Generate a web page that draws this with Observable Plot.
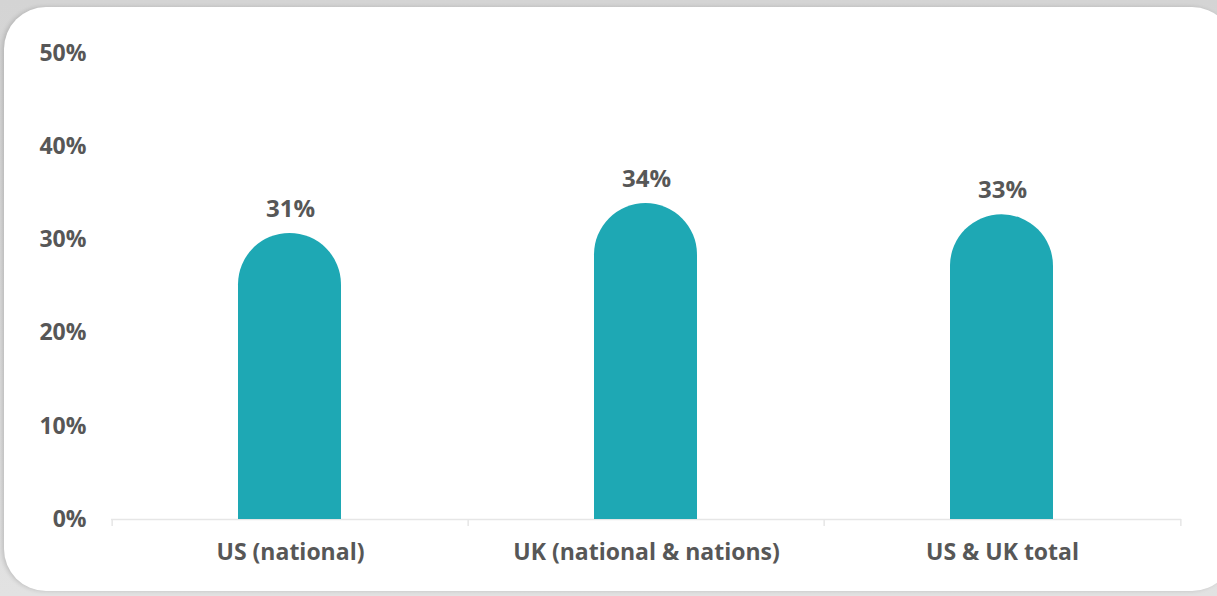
<!DOCTYPE html>
<html>
<head>
<meta charset="utf-8">
<script src="https://cdn.jsdelivr.net/npm/d3@7"></script>
<script src="https://cdn.jsdelivr.net/npm/@observablehq/plot@0.6"></script>
<style>
  html, body { margin: 0; padding: 0; }
  body {
    width: 1217px; height: 596px; overflow: hidden; position: relative;
    background: linear-gradient(#d4d4d4, #e2e2e2);
    font-family: "Open Sans", sans-serif;
  }
  #card {
    position: absolute; left: 4px; top: 7px; width: 1230px; height: 584px;
    background: #fff; border-radius: 42px;
    box-shadow: -2px 0 4px rgba(0,0,0,0.15);
  }
  #chart { position: absolute; left: 0; top: 0; }
</style>
</head>
<body>
<div id="card"></div>
<div id="chart"></div>
<script>
const categories = ["US (national)", "UK (national & nations)", "US & UK total"];
const values = [30.7, 33.9, 32.7];
const yTicks = [0, 10, 20, 30, 40, 50];

const data = categories.map((c, i) => ({category: c, value: values[i]}));

const W = 1217, H = 596, ML = 111, MR = 36, MT = 53, MB = 77;
const bw = (W - ML - MR) / categories.length;
const barColor = "#1ea8b4";
const textColor = "#575757";

const chart = Plot.plot({
  width: W, height: H,
  marginLeft: ML, marginRight: MR, marginTop: MT, marginBottom: MB,
  style: {background: "transparent", fontFamily: "'Open Sans', sans-serif", overflow: "visible"},
  x: {domain: categories, padding: 0, round: true, label: null, axis: null},
  y: {domain: [0, 50], label: null, axis: null},
  marks: [
    Plot.ruleY([0], {stroke: "#e6e6e6", strokeWidth: 1.5}),
    Plot.ruleX(categories, {x: d => d, y1: 0, y2: -0.75, dx: -bw / 2, stroke: "#e6e6e6", strokeWidth: 1.5}),
    Plot.ruleX([categories[categories.length - 1]], {x: d => d, y1: 0, y2: -0.75, dx: bw / 2, stroke: "#e6e6e6", strokeWidth: 1.5}),
    Plot.barY(data, {x: "category", y: "value", fill: barColor, insetLeft: 127, insetRight: 126, dx: -1, rx: 51.5}),
    Plot.barY(data, {x: "category", y: d => d.value / 2, fill: barColor, insetLeft: 127, insetRight: 126, dx: -1,
      shapeRendering: "crispEdges"}),
    Plot.text(data, {x: "category", y: "value", text: d => d3.format(".0f")(d.value) + "%", dy: -24,
      fill: textColor, fontSize: 24, fontWeight: 700}),
    Plot.text(yTicks, {x: null, y: d => d, text: d => d + "%", frameAnchor: "left", dx: -25, textAnchor: "end",
      fill: textColor, fontSize: 23, fontWeight: 700}),
    Plot.text(categories, {x: d => d, y: 0, text: d => d, dy: 33, fill: textColor, fontSize: 23, fontWeight: 700})
  ]
});
document.getElementById("chart").appendChild(chart);
</script>
</body>
</html>
